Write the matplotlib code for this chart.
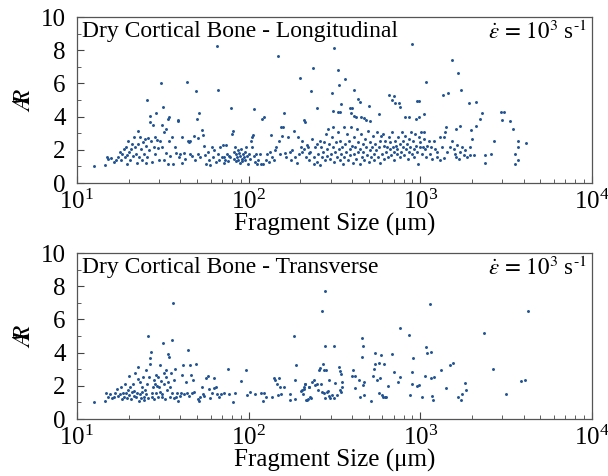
import numpy as np
import matplotlib
matplotlib.use('Agg')
import matplotlib.pyplot as plt
from matplotlib.ticker import MultipleLocator

plt.rcParams['font.family'] = 'serif'
plt.rcParams['font.serif'] = ['Liberation Serif', 'DejaVu Serif']
plt.rcParams['mathtext.fontset'] = 'stix'

# longitudinal: log10 of fragment size (um) and aspect ratio
long_logsize = [
    1.097, 1.161, 1.173, 1.180, 1.198, 1.214, 1.227, 1.237, 1.252, 1.258,
    1.264, 1.276, 1.280, 1.283, 1.290, 1.293, 1.300, 1.303, 1.310, 1.315,
    1.320, 1.326, 1.334, 1.338, 1.346, 1.350, 1.355, 1.357, 1.363, 1.369,
    1.375, 1.380, 1.384, 1.388, 1.394, 1.400, 1.404, 1.408, 1.410, 1.414,
    1.417, 1.423, 1.427, 1.430, 1.437, 1.440, 1.447, 1.452, 1.456, 1.462,
    1.466, 1.472, 1.476, 1.482, 1.490, 1.493, 1.497, 1.503, 1.505, 1.509,
    1.516, 1.520, 1.528, 1.534, 1.528, 1.538, 1.544, 1.551, 1.559, 1.569,
    1.579, 1.586, 1.590, 1.594, 1.602, 1.610, 1.614, 1.621, 1.631, 1.641,
    1.645, 1.650, 1.656, 1.660, 1.668, 1.680, 1.685, 1.693, 1.699, 1.703,
    1.707, 1.713, 1.718, 1.728, 1.734, 1.738, 1.748, 1.753, 1.761, 1.771,
    1.777, 1.786, 1.792, 1.800, 1.808, 1.816, 1.819, 1.823, 1.827, 1.835,
    1.843, 1.849, 1.854, 1.858, 1.864, 1.868, 1.874, 1.880, 1.883, 1.889,
    1.895, 1.903, 1.909, 1.913, 1.917, 1.922, 1.926, 1.928, 1.932, 1.936,
    1.940, 1.944, 1.948, 1.951, 1.955, 1.959, 1.963, 1.967, 1.971, 1.977,
    1.981, 1.986, 1.990, 1.994, 2.000, 2.006, 2.014, 2.018, 2.021, 2.025,
    2.029, 2.033, 2.039, 2.045, 2.049, 2.056, 2.064, 2.074, 2.078, 2.085,
    2.091, 2.099, 2.107, 2.117, 2.126, 2.132, 2.138, 2.146, 2.151, 2.159,
    2.169, 2.175, 2.184, 2.190, 2.194, 2.200, 2.208, 2.214, 2.219, 2.229,
    2.239, 2.247, 2.254, 2.262, 2.272, 2.282, 2.287, 2.293, 2.300, 2.305,
    2.311, 2.320, 2.330, 2.340, 2.350,
    2.310, 2.320, 2.335, 2.343, 2.354, 2.358, 2.368, 2.378, 2.381, 2.387,
    2.397, 2.401, 2.407, 2.413, 2.416, 2.420, 2.426, 2.436, 2.440, 2.446,
    2.451, 2.455, 2.459, 2.465, 2.471, 2.475, 2.478, 2.484, 2.490, 2.494,
    2.498, 2.504, 2.510, 2.514, 2.518, 2.524, 2.530, 2.533, 2.537, 2.543,
    2.549, 2.553, 2.557, 2.563, 2.568, 2.572, 2.576, 2.582, 2.588, 2.592,
    2.596, 2.602, 2.607, 2.611, 2.615, 2.621, 2.627, 2.631, 2.635, 2.640,
    2.646, 2.650, 2.654, 2.660, 2.665, 2.669, 2.673, 2.679, 2.685, 2.689,
    2.695, 2.699, 2.705, 2.708, 2.712, 2.718, 2.724, 2.728, 2.732, 2.738,
    2.743, 2.747, 2.751, 2.757, 2.763, 2.767, 2.770, 2.776, 2.782, 2.786,
    2.790, 2.796, 2.802, 2.805, 2.809, 2.815, 2.821, 2.825, 2.829, 2.835,
    2.840, 2.844, 2.848, 2.854, 2.860, 2.863, 2.867, 2.873, 2.879, 2.883,
    2.887, 2.893, 2.898, 2.902, 2.906, 2.912, 2.918, 2.922, 2.926, 2.932,
    2.937, 2.941, 2.945, 2.951, 2.957, 2.961, 2.965, 2.971, 2.976, 2.980,
    2.984, 2.990, 2.996, 3.000, 3.004, 3.010, 3.015, 3.019, 3.023, 3.029,
    3.035, 3.039, 3.048, 3.054, 3.062, 3.068, 3.078, 3.087, 3.097,
    2.598, 2.611, 2.627, 2.656, 2.673, 2.685, 2.708, 2.495, 2.375, 2.365,
    2.398, 2.483, 2.518, 2.524, 2.563, 2.615, 2.635, 2.650, 2.699, 2.592,
    2.602, 2.491, 2.518, 2.530, 2.538, 2.757, 2.816, 2.849, 2.835, 2.854,
    2.874, 2.884, 2.913, 2.932, 2.953, 2.981, 2.994, 2.990, 2.977, 3.033,
    3.019, 3.185, 3.218, 3.239, 3.130, 3.163, 3.282, 3.327, 3.360, 3.350,
    3.327, 3.295, 3.229, 3.206, 3.150, 3.144, 3.136, 3.301, 3.291, 3.243,
    3.427, 3.470, 3.486, 3.474, 3.520, 3.538, 3.569, 3.616, 3.569, 3.550,
    3.550, 3.569, 3.379, 3.379, 3.413, 3.311, 3.287, 3.252, 3.200, 3.210,
    3.223, 3.155, 3.126, 3.117, 3.100, 3.113, 3.140, 3.171, 3.185, 3.195,
    3.214, 3.234, 3.263, 3.273,
]
long_ar = [
    1.02, 1.08, 1.56, 1.44, 1.52, 1.24, 1.40, 1.56, 1.84, 1.40,
    1.72, 2.02, 1.56, 2.20, 1.16, 1.66, 2.56, 1.86, 1.40, 2.06,
    2.36, 1.64, 2.76, 2.16, 1.76, 1.20, 3.12, 2.36, 1.56, 2.76,
    2.06, 1.36, 2.46, 1.76, 2.66, 1.20, 2.26, 1.56, 5.00, 2.72,
    1.96, 3.66, 4.06, 2.56, 1.26, 3.52, 2.16, 2.76, 1.72, 4.20,
    2.60, 2.12, 1.40, 2.56, 6.00, 3.52, 2.16, 4.60, 3.06, 1.36,
    1.80, 3.26, 3.86, 3.96, 1.16, 2.56, 1.60, 2.76, 1.16, 2.16,
    1.80, 3.72, 3.80, 1.56, 1.72, 1.20, 2.76, 1.80, 1.46, 6.08,
    2.56, 2.46, 1.76, 2.52, 1.60, 2.86, 1.40, 5.56, 3.86, 2.72,
    1.76, 4.22, 1.56, 3.20, 2.92, 2.26, 1.66, 1.16, 1.86, 1.40,
    1.06, 2.16, 1.56, 1.96, 1.26, 8.26, 5.60, 1.76, 1.36, 2.16,
    1.56, 2.32, 1.20, 1.56, 1.40, 2.30, 1.76, 1.32, 1.60, 1.56,
    4.52, 2.96, 3.16, 1.86, 1.46, 2.16, 1.72, 1.30, 1.56, 1.96,
    1.40, 1.80, 1.20, 1.64, 2.06, 1.46, 1.32, 1.76, 1.56, 1.86,
    1.40, 2.16, 1.60, 1.16, 1.72, 1.46, 2.56, 2.16, 2.76, 2.92,
    1.60, 4.46, 1.26, 1.72, 1.16, 1.40, 1.76, 1.16, 3.84, 1.12,
    3.96, 1.40, 1.72, 1.26, 1.86, 2.92, 1.56, 1.40, 1.96, 2.16,
    7.66, 2.56, 1.72, 3.36, 2.86, 3.36, 4.20, 1.80, 1.56, 2.76,
    1.86, 1.40, 2.00, 3.16, 1.56, 1.20, 2.76, 1.72, 6.32, 2.20,
    1.86, 3.80, 3.66, 2.32, 1.80,
    2.56, 2.06, 1.56, 2.20, 1.36, 1.86, 2.66, 1.56, 1.12, 2.16,
    1.26, 2.36, 1.76, 2.56, 1.06, 2.16, 1.56, 1.86, 2.46, 1.36,
    2.96, 2.06, 1.60, 3.26, 2.36, 1.46, 1.76, 2.76, 3.40, 2.16,
    1.26, 1.86, 2.46, 1.56, 3.06, 2.06, 1.36, 2.56, 1.76, 2.16,
    1.16, 3.40, 1.56, 2.36, 1.86, 2.96, 1.36, 2.56, 2.06, 1.66,
    3.36, 2.26, 1.20, 1.76, 2.76, 2.16, 1.46, 3.26, 1.86, 2.46,
    1.16, 2.06, 2.96, 1.56, 2.36, 1.86, 1.36, 2.66, 2.16, 1.66,
    3.16, 1.26, 1.96, 2.46, 1.56, 2.16, 2.86, 1.76, 1.36, 2.36,
    1.96, 3.06, 1.56, 2.16, 2.56, 1.20, 2.86, 1.76, 2.96, 2.26,
    1.46, 2.56, 1.86, 2.16, 1.56, 2.76, 2.06, 2.46, 1.66, 3.06,
    2.16, 1.86, 1.36, 2.56, 2.26, 1.76, 2.06, 2.76, 1.56, 2.36,
    1.86, 3.06, 2.16, 2.56, 1.66, 2.86, 2.06, 2.36, 1.46, 2.66,
    1.86, 2.16, 3.06, 1.76, 2.56, 2.06, 1.56, 2.96, 2.26, 1.86,
    1.16, 2.76, 2.16, 2.46, 3.06, 1.76, 2.16, 3.06, 2.66, 2.06,
    1.56, 2.26, 2.56, 1.76, 2.16, 1.46, 2.52, 2.06, 1.56,
    4.20, 4.06, 3.96, 4.00, 3.92, 3.80, 3.72, 8.12, 6.92, 5.56,
    4.52, 5.40, 6.82, 5.90, 6.26, 5.60, 5.06, 4.86, 4.64, 4.52,
    4.52, 4.32, 4.26, 4.26, 4.76, 4.16, 5.32, 5.26, 5.00, 4.82,
    4.80, 4.56, 3.96, 3.96, 8.36, 4.92, 4.96, 4.00, 3.86, 6.06,
    4.16, 7.42, 6.62, 5.62, 5.32, 5.40, 4.82, 4.90, 4.20, 3.86,
    3.46, 3.20, 3.46, 3.26, 3.36, 3.06, 2.80, 2.66, 2.16, 2.20,
    2.52, 4.30, 4.30, 3.82, 3.76, 3.26, 2.52, 2.40, 2.16, 1.76,
    1.16, 1.40, 1.66, 1.22, 1.76, 1.70, 1.66, 1.66, 1.72, 1.56,
    1.46, 1.86, 2.20, 2.76, 1.86, 1.40, 1.52, 2.16, 2.56, 2.06,
    2.32, 1.86, 2.00, 1.56,
]

# transverse
trans_logsize = [
    1.097, 1.161, 1.169, 1.179, 1.190, 1.204, 1.214, 1.223, 1.233, 1.237,
    1.249, 1.256, 1.262, 1.268, 1.276, 1.282, 1.287, 1.291, 1.297, 1.301,
    1.305, 1.311, 1.315, 1.318, 1.324, 1.330, 1.334, 1.340, 1.344, 1.350,
    1.353, 1.357, 1.361, 1.365, 1.369, 1.373, 1.377, 1.381, 1.384, 1.388,
    1.392, 1.396, 1.400, 1.404, 1.408, 1.412, 1.416, 1.419, 1.423, 1.427,
    1.431, 1.435, 1.439, 1.443, 1.447, 1.450, 1.454, 1.458, 1.462, 1.466,
    1.470, 1.474, 1.478, 1.482, 1.485, 1.489, 1.493, 1.497, 1.501, 1.505,
    1.509, 1.513, 1.517, 1.520, 1.524, 1.528, 1.532, 1.536, 1.540, 1.544,
    1.548, 1.551, 1.555, 1.559, 1.563, 1.567, 1.573, 1.579, 1.583, 1.590,
    1.598, 1.606, 1.614, 1.617, 1.625, 1.633, 1.641, 1.647, 1.652, 1.660,
    1.666, 1.672, 1.676, 1.684, 1.695, 1.703, 1.711, 1.718, 1.728, 1.734,
    1.742, 1.753, 1.761, 1.769, 1.777, 1.786, 1.796, 1.800, 1.808, 1.816,
    1.825, 1.839, 1.854, 1.878, 1.883, 1.909, 1.922, 1.957, 1.986, 1.990,
    2.010, 2.039, 2.074, 2.083, 2.091, 2.103, 2.136, 2.146, 2.155, 2.165,
    2.169, 2.175, 2.181, 2.188, 2.204, 2.239, 2.243, 2.262, 2.268, 2.272,
    2.278, 2.311, 2.320, 2.330, 2.340, 2.351,
    2.444, 2.427, 2.442, 2.495, 2.306, 2.316, 2.324, 2.330, 2.336, 2.344,
    2.350, 2.355, 2.363, 2.369, 2.378, 2.388, 2.398, 2.402, 2.408, 2.413,
    2.421, 2.427, 2.433, 2.437, 2.441, 2.446, 2.450, 2.456, 2.460, 2.466,
    2.470, 2.476, 2.485, 2.495, 2.501, 2.514, 2.528, 2.534, 2.538, 2.534,
    2.538, 2.542, 2.544, 2.602, 2.608, 2.621, 2.621, 2.641, 2.646, 2.660,
    2.660, 2.664, 2.666, 2.670, 2.674, 2.713, 2.724, 2.732, 2.734, 2.738,
    2.748, 2.757, 2.759, 2.763, 2.771, 2.777, 2.783, 2.790, 2.796, 2.802,
    2.810, 2.835, 2.845, 2.870, 2.880, 2.884, 2.932, 2.942, 2.952, 2.957,
    2.954, 2.981, 2.990, 3.010, 3.025, 3.033, 3.039, 3.055, 3.064, 3.064,
    3.068, 3.074, 3.082, 3.123, 3.152, 3.171, 3.190, 3.220, 3.243, 3.239,
    3.262, 3.266, 3.371, 3.422, 3.500, 3.589, 3.612, 3.628,
]
trans_ar = [
    1.00, 1.08, 1.58, 1.34, 1.50, 1.24, 1.34, 1.58, 1.78, 1.38,
    1.50, 1.94, 1.18, 1.58, 1.34, 2.14, 1.54, 1.24, 1.74, 2.58,
    1.44, 1.94, 1.18, 1.64, 2.14, 1.38, 1.70, 2.78, 1.34, 1.58,
    3.14, 2.44, 1.10, 1.50, 2.24, 1.24, 1.94, 1.64, 2.54, 1.34,
    1.14, 1.74, 2.94, 1.50, 2.14, 4.98, 1.24, 2.54, 3.70, 3.30,
    4.04, 1.58, 1.34, 1.94, 2.34, 1.18, 2.10, 2.64, 1.54, 1.98,
    1.34, 2.54, 1.94, 3.24, 1.64, 2.30, 1.34, 1.50, 4.60, 2.14,
    2.78, 1.18, 2.54, 2.98, 1.74, 2.24, 3.90, 3.74, 1.34, 1.94,
    2.78, 1.58, 4.74, 7.00, 2.34, 1.24, 3.04, 1.34, 1.58, 1.10,
    1.38, 1.54, 2.64, 3.24, 1.50, 2.24, 1.58, 4.14, 1.38, 3.24,
    2.64, 1.54, 2.34, 1.64, 3.34, 1.18, 1.10, 1.34, 1.94, 1.50,
    1.38, 2.50, 2.58, 1.78, 1.24, 1.58, 2.50, 1.84, 1.94, 1.50,
    1.34, 1.50, 1.58, 3.04, 1.50, 1.04, 1.58, 2.30, 2.98, 1.44,
    1.64, 1.48, 1.54, 1.08, 1.54, 1.34, 1.34, 2.50, 2.38, 2.14,
    1.44, 2.50, 1.90, 1.50, 1.94, 1.14, 1.50, 4.98, 1.18, 2.38,
    3.24, 1.74, 1.94, 2.14, 1.14, 1.94,
    7.74, 6.50, 4.38, 4.42, 1.70, 1.50, 1.78, 2.14, 1.14, 1.18,
    1.94, 1.30, 1.24, 2.24, 2.38, 2.04, 2.14, 1.74, 2.94, 3.10,
    2.10, 1.64, 3.30, 2.94, 1.58, 1.24, 2.98, 1.64, 1.70, 1.38,
    2.34, 1.24, 1.44, 1.24, 2.18, 1.44, 3.14, 2.90, 2.74, 1.74,
    1.64, 1.94, 2.24, 2.58, 2.94, 2.58, 1.84, 2.38, 1.30, 3.74,
    4.88, 4.38, 2.04, 2.24, 1.44, 1.10, 2.58, 3.04, 3.30, 3.98,
    2.38, 3.38, 1.54, 2.50, 3.84, 1.44, 1.34, 3.30, 1.34, 1.34,
    1.98, 3.90, 2.84, 2.24, 2.54, 5.50, 5.04, 1.44, 2.84, 3.70,
    2.10, 1.98, 2.04, 1.34, 2.58, 4.34, 3.98, 6.94, 2.48, 4.02,
    1.40, 1.14, 2.54, 2.94, 1.84, 3.24, 3.38, 1.34, 1.50, 1.14,
    2.18, 1.74, 5.18, 3.04, 1.48, 2.28, 2.34, 6.48,
]

panels = [
    (long_logsize, long_ar, 'Dry Cortical Bone - Longitudinal'),
    (trans_logsize, trans_ar, 'Dry Cortical Bone - Transverse'),
]

fig = plt.figure(figsize=(6.08, 4.76), dpi=100)
boxes = [[0.1266, 0.6155, 0.847, 0.3487], [0.1266, 0.1197, 0.847, 0.3487]]

for box, (logsize, ar, title) in zip(boxes, panels):
    ax = fig.add_axes(box)
    size = 10 ** np.array(logsize)
    ax.scatter(size, ar, s=4.5, color='#1f5394', linewidths=0, zorder=3)
    ax.set_xscale('log')
    ax.set_xlim(10, 1e4)
    ax.set_ylim(0, 10)
    ax.yaxis.set_major_locator(MultipleLocator(2))
    ax.yaxis.set_minor_locator(MultipleLocator(1))
    ax.tick_params(which='both', direction='in', top=False, right=False,
                   labelsize=18, color='#444444')
    ax.tick_params(which='major', length=5)
    ax.tick_params(which='minor', length=3)
    ax.tick_params(axis='y', pad=8)
    ax.tick_params(axis='x', pad=5)
    for sp in ax.spines.values():
        sp.set_color('#555555')
        sp.set_linewidth(0.9)
    ax.set_xlabel('Fragment Size (μm)', fontsize=18, labelpad=-1)
    ax.set_ylabel(r'$\mathit{A\!\!\!R}$', fontsize=18, labelpad=4)
    ax.text(0.01, 0.975, title, transform=ax.transAxes, fontsize=17,
            ha='left', va='top')
    ax.text(0.99, 0.975, r'$\dot{\varepsilon}\,=\,10^3$ s$^{\text{-1}}$',
            transform=ax.transAxes, fontsize=16.5, ha='right', va='top')

fig.savefig('out.png', dpi=100)
